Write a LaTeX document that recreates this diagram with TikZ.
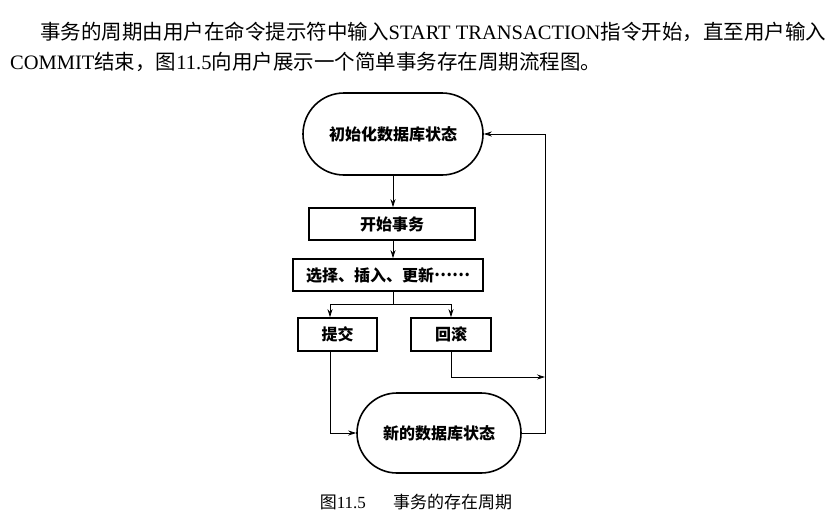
\documentclass[tikz,border=0pt]{standalone}
\usepackage{fontspec}
\setmainfont{Liberation Serif}
\newfontfamily\cjk{Noto Sans CJK SC}
\usetikzlibrary{arrows.meta,shapes.misc}
\tikzset{
  stadium/.style={rounded rectangle, draw, line width=1.6pt, inner sep=0pt,
    font=\cjk\bfseries\fontsize{16}{19}\selectfont},
  stepbox/.style={rectangle, draw, line width=1.6pt, inner sep=0pt,
    font=\cjk\bfseries\fontsize{16}{19}\selectfont},
  conn/.style={line width=0.8pt},
  arr/.style={conn, -{Stealth[length=8pt,width=5pt]}},
  bodytext/.style={inner sep=0pt, anchor=west, font=\fontsize{20.5}{24}\selectfont}
}
\begin{document}
\begin{tikzpicture}[x=1pt,y=-1pt]
\useasboundingbox (0,0) rectangle (840,523);
\node[bodytext] (l1) at (40,32) {{\cjk 事务的周期由用户在命令提示符中输入}START TRANSACTION{\cjk 指令开始，直至用户输入}};
\node[bodytext] (l2) at (10,62) {COMMIT{\cjk 结束，图}11.5{\cjk 向用户展示一个简单事务存在周期流程图。}};

\node[stadium, minimum width=180pt, minimum height=82pt] (init) at (393,134) {初始化数据库状态};
\node[stepbox, minimum width=166pt, minimum height=32pt] (start) at (392,224) {开始事务};
\node[stepbox, minimum width=190pt, minimum height=32pt] (ops) at (388,275) {选择、插入、更新\raisebox{0.3em}{……}};
\node[stepbox, minimum width=79pt, minimum height=33pt] (commit) at (337.5,334.5) {提交};
\node[stepbox, minimum width=80pt, minimum height=33pt] (rollback) at (451,334.5) {回滚};
\node[stadium, minimum width=164pt, minimum height=80pt] (newst) at (439,433) {新的数据库状态};

\coordinate (br) at (393,304);
\coordinate (lx) at (330,304);
\coordinate (rx) at (451,304);
\coordinate (rb) at (545,377);
\coordinate (rt) at (545,134);

\draw[arr] (init.south) -- (init.south |- start.north);
\draw[arr] (init.south |- start.south) -- (init.south |- ops.north);
\draw[conn] (init.south |- ops.south) -- (br);
\draw[conn] (lx) -- (rx);
\draw[arr] (lx) -- (lx |- commit.north);
\draw[arr] (rx) -- (rollback.north);
\draw[arr] (lx |- commit.south) |- (newst.west);
\draw[arr] (rollback.south) |- (rb);
\draw[arr] (newst.east) -- (newst.east -| rt) -- (rt) -- (init.east);

\node[inner sep=0pt, font=\fontsize{17}{20}\selectfont] (cap) at (416,502) {{\cjk 图}11.5\hspace{1.6em}{\cjk 事务的存在周期}};
\end{tikzpicture}
\end{document}
